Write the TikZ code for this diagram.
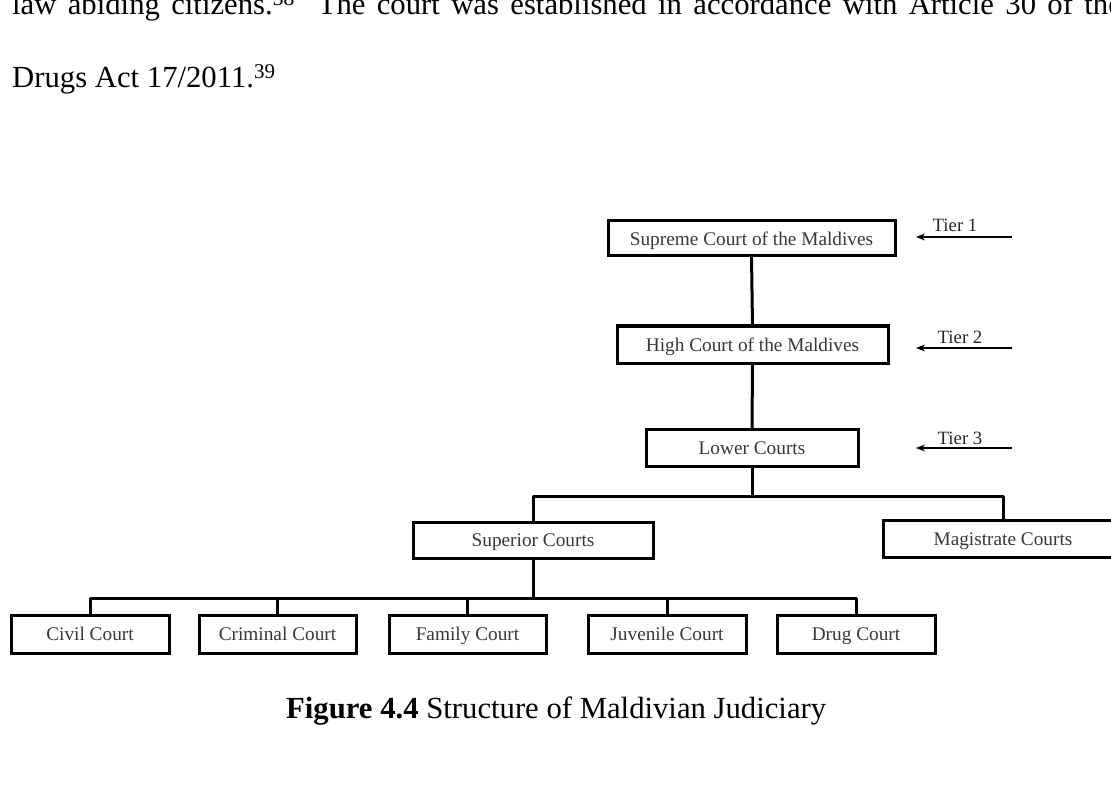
\documentclass[tikz,border=0pt]{standalone}
\usepackage{fontspec}
\setmainfont{Liberation Serif}
\usetikzlibrary{arrows.meta}
\begin{document}
\begin{tikzpicture}[x=1pt,y=-1pt,
  courtbox/.style={draw=black, line width=3pt, fill=white, inner sep=0pt, outer sep=0pt,
    text=black!78, font=\fontsize{19.3}{22}\selectfont, text height=13.5pt, text depth=0pt,
    minimum height=#1},
  courtbox/.default=37pt,
  link/.style={line width=3pt, line join=round},
  tierarrow/.style={line width=1.2pt, -{Stealth[length=9pt,width=7pt]}},
  tierlabel/.style={anchor=base, inner sep=0pt, text=black!85, font=\fontsize{18.8}{22}\selectfont},
  bodytext/.style={anchor=base west, inner sep=0pt, font=\fontsize{30.7}{36}\selectfont}]
\useasboundingbox (0,0) rectangle (1111,794);
\fill[white] (0,0) rectangle (1111,794);

% body text
\node[bodytext] (l1) at (12,15) {\spaceskip=0.37em law abiding citizens.\textsuperscript{38}\hspace{0.75em}The court was established in accordance with Article 30 of the};
\node[bodytext] (l2) at (12,88) {Drugs Act 17/2011.\textsuperscript{\fontsize{21}{24}\selectfont 39}};

% boxes
\node[courtbox=35pt, minimum width=287pt] (sup) at (751.5,238.5) {Supreme Court of the Maldives};
\node[courtbox, minimum width=271pt] (high) at (752.5,344.5) {High Court of the Maldives};
\node[courtbox, minimum width=212pt] (lower) at (752,447.5) {Lower Courts};
\node[courtbox=36pt, minimum width=240pt] (superior) at (533,540) {Superior Courts};
\node[courtbox, minimum width=240pt] (magis) at (1003,539) {Magistrate Courts};
\node[courtbox=38pt, minimum width=158pt] (civil) at (90,634) {Civil Court};
\node[courtbox=38pt, minimum width=157pt] (criminal) at (277.5,634) {Criminal Court};
\node[courtbox=38pt, minimum width=157pt] (family) at (467.5,634) {Family Court};
\node[courtbox=38pt, minimum width=158pt] (juvenile) at (667,634) {Juvenile Court};
\node[courtbox=38pt, minimum width=158pt] (drug) at (856,634) {Drug Court};

% connectors
\coordinate (bus1) at (752,496);
\coordinate (bus2) at (533,598);
\draw[link] (sup.south) -- (high.north);
\draw[link] (high.south) -- (lower.north);
\draw[link] (lower.south) -- (bus1);
\draw[link] (superior.north) |- (bus1) -| (magis.north);
\draw[link] (superior.south) -- (bus2);
\draw[link] (civil.north) |- (bus2) -| (drug.north);
\draw[link] (criminal.north) -- (criminal.north |- bus2);
\draw[link] (family.north) -- (family.north |- bus2);
\draw[link] (juvenile.north) -- (juvenile.north |- bus2);

% tiers
\coordinate (t1s) at (1012,237); \coordinate (t1e) at (916,237);
\coordinate (t2s) at (1012,348); \coordinate (t2e) at (916,348);
\coordinate (t3s) at (1012,448); \coordinate (t3e) at (916,448);
\draw[tierarrow] (t1s) -- (t1e);
\draw[tierarrow] (t2s) -- (t2e);
\draw[tierarrow] (t3s) -- (t3e);
\node[tierlabel] (tier1) at (955,232) {Tier 1};
\node[tierlabel] (tier2) at (960,343) {Tier 2};
\node[tierlabel] (tier3) at (960,444) {Tier 3};

% caption
\node[bodytext] (cap) at (286,718) {\textbf{Figure 4.4} Structure of Maldivian Judiciary};
\end{tikzpicture}
\end{document}
